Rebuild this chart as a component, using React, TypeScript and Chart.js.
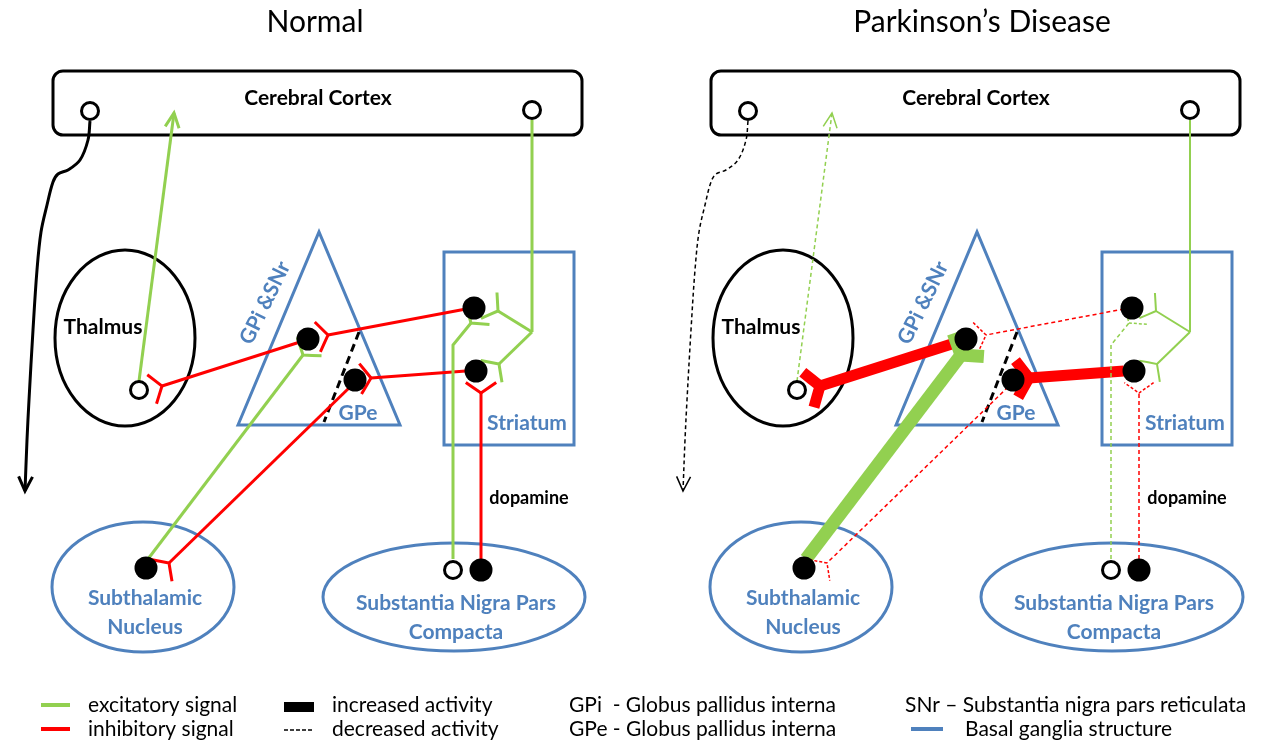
import React, { useEffect, useRef } from "react";
import { Chart, registerables } from "chart.js";

Chart.register(...registerables);

// ---------------- data ----------------
const W = 1262;
const H = 746;

const panelTitles = ["Normal", "Parkinson’s Disease"];
const panelTitleX = [315, 982];
const panelShift = [0, 658];

// neurons (left-panel coordinates, right panel is the same layout shifted)
const filledNeurons = [
  { x: 308, y: 339 }, // GPi
  { x: 355, y: 380 }, // GPe
  { x: 474, y: 308 }, // striatum upper
  { x: 476, y: 371 }, // striatum lower
  { x: 146, y: 568 }, // STN
  { x: 481, y: 570 }, // SNc dopaminergic
];
const openNeurons = [
  { x: 90, y: 111 }, // cortex left
  { x: 532, y: 110 }, // cortex right
  { x: 139, y: 390 }, // thalamus
  { x: 453, y: 570 }, // SNc
];

const connNames = [
  "cortexOut", "thalToCortex", "cortexToStr", "strBranchUp", "strBranchDown", "sncToStr",
  "dopamine", "strToGPi", "strToGPe", "gpiToThal", "stnToGPi", "gpeToStn",
];
const connColors = ["black", "green", "green", "green", "green", "green", "red", "red", "red", "red", "green", "red"];
const connEnds = ["arrow", "arrow", "none", "syn", "syn", "syn", "syn", "syn", "syn", "syn", "syn", "syn"];
const connPaths = [
  [[90, 121], [88, 140], [80, 160], [68, 170], [58, 174], [53, 182], [47, 205], [41, 232], [37, 270], [33, 330], [29, 400], [27, 440], [25, 491]],
  [[139, 381], [174, 113]],
  [[532, 120], [532, 332]],
  [[532, 332], [498, 311]],
  [[532, 332], [499, 364]],
  [[453, 559], [453, 345], [471, 323]],
  [[481, 559], [481, 393]],
  [[466, 309], [328, 335]],
  [[466, 371], [371, 378]],
  [[300, 342], [162, 386]],
  [[148, 559], [303, 355]],
  [[350, 387], [169, 563]],
];
const normalWidths = [3, 3, 3, 3, 3, 3, 3, 3, 3, 3, 3, 3];
const normalDashed = [false, false, false, false, false, false, false, false, false, false, false, false];
const pdWidths = [1.5, 1.5, 2, 2, 2, 1.5, 1.5, 1.5, 11, 11, 13, 1.5];
const pdDashed = [true, true, false, false, false, true, true, true, false, false, false, true];

const boundaryLine = [[359, 332], [324, 422]];

const structureLabels = [
  "Cerebral Cortex", "Thalmus", "GPi &SNr", "GPe", "Striatum", "dopamine",
  "Subthalamic", "Nucleus", "Substantia Nigra Pars", "Compacta",
];

const legendLeft = ["excitatory signal", "inhibitory signal"];
const legendMid = ["increased activity", "decreased activity"];
const legendAbbr = ["GPi  - Globus pallidus interna", "GPe - Globus pallidus interna"];
const legendRight = ["SNr – Substantia nigra pars reticulata", "Basal ganglia structure"];

// ---------------- styles ----------------
const COLORS: Record<string, string> = {
  green: "#92D050",
  red: "#FF0000",
  black: "#000000",
  blue: "#4F81BD",
};
const FONT = "Lato, 'Open Sans', sans-serif";

// label layout: [x, y, size, color, rotation]
const labelLayout: [number, number, number, string, number][] = [
  [318, 98, 21, "black", 0],
  [103, 327, 21, "black", 0],
  [265, 303, 21, "blue", -64],
  [358, 413, 21, "blue", 0],
  [527, 423, 21, "blue", 0],
  [529, 498, 18, "black", 0],
  [145, 598, 21, "blue", 0],
  [145, 627, 21, "blue", 0],
  [456, 603, 21, "blue", 0],
  [456, 632, 21, "blue", 0],
];

function buildDatasets() {
  const ds: any[] = [];
  panelShift.forEach((sx, p) => {
    const widths = p === 0 ? normalWidths : pdWidths;
    const dashed = p === 0 ? normalDashed : pdDashed;
    connPaths.forEach((path, i) => {
      ds.push({
        label: connNames[i] + p,
        data: path.map(([x, y]) => ({ x: x + sx, y })),
        showLine: true,
        borderColor: COLORS[connColors[i]],
        borderWidth: widths[i],
        borderDash: dashed[i] ? [4, 3] : [],
        borderCapStyle: "butt",
        pointRadius: 0,
        tension: i === 0 ? 0.35 : 0,
        fill: false,
        clip: false,
        order: 2,
      });
    });
    ds.push({
      label: "boundary" + p,
      data: boundaryLine.map(([x, y]) => ({ x: x + sx, y })),
      showLine: true,
      borderColor: "#000",
      borderWidth: 3,
      borderDash: [8, 5],
      pointRadius: 0,
      clip: false,
      order: 2,
    });
  });
  ds.push({
    label: "filled",
    data: panelShift.flatMap((sx) => filledNeurons.map((n) => ({ x: n.x + sx, y: n.y }))),
    pointRadius: 11.5,
    pointBackgroundColor: "#000",
    pointBorderWidth: 0,
    showLine: false,
    clip: false,
    order: 1,
  });
  ds.push({
    label: "open",
    data: panelShift.flatMap((sx) => openNeurons.map((n) => ({ x: n.x + sx, y: n.y }))),
    pointRadius: 8.5,
    pointBackgroundColor: "#fff",
    pointBorderColor: "#000",
    pointBorderWidth: 3,
    showLine: false,
    clip: false,
    order: 0,
  });
  return ds;
}

// "Y"-shaped synaptic ending: the stem forks into two arms that open toward the target
function drawSynapse(ctx: CanvasRenderingContext2D, ex: number, ey: number, dx: number, dy: number, lw: number, dashed: boolean) {
  const len = Math.hypot(dx, dy) || 1;
  const ux = dx / len, uy = dy / len;
  const nx = -uy, ny = ux;
  const spread = 14 + lw * 0.4;
  const fwd = 10 + lw * 0.2;
  ctx.save();
  ctx.lineWidth = lw;
  ctx.setLineDash(dashed ? [3, 2] : []);
  ctx.lineJoin = "miter";
  ctx.lineCap = "butt";
  ctx.beginPath();
  ctx.moveTo(ex + ux * fwd + nx * spread, ey + uy * fwd + ny * spread);
  ctx.lineTo(ex + ux * fwd * 0.5 + nx * spread * 0.5, ey + uy * fwd * 0.5 + ny * spread * 0.5);
  ctx.lineTo(ex, ey);
  ctx.lineTo(ex + ux * fwd * 0.5 - nx * spread * 0.5, ey + uy * fwd * 0.5 - ny * spread * 0.5);
  ctx.lineTo(ex + ux * fwd - nx * spread, ey + uy * fwd - ny * spread);
  ctx.stroke();
  ctx.restore();
}

function drawArrow(ctx: CanvasRenderingContext2D, tx: number, ty: number, dx: number, dy: number, lw: number) {
  const len = Math.hypot(dx, dy) || 1;
  const ux = dx / len, uy = dy / len;
  const arm = 16, a = 0.45;
  const c = Math.cos(a), s = Math.sin(a);
  const r1x = -(ux * c - uy * s), r1y = -(uy * c + ux * s);
  const r2x = -(ux * c + uy * s), r2y = -(uy * c - ux * s);
  ctx.save();
  ctx.lineWidth = lw;
  ctx.setLineDash([]);
  ctx.lineJoin = "miter";
  ctx.beginPath();
  ctx.moveTo(tx + r1x * arm, ty + r1y * arm);
  ctx.lineTo(tx, ty);
  ctx.lineTo(tx + r2x * arm, ty + r2y * arm);
  ctx.stroke();
  ctx.restore();
}

const diagramPlugin = {
  id: "diagram",
  beforeDatasetsDraw(chart: any) {
    const ctx: CanvasRenderingContext2D = chart.ctx;
    const X = (v: number) => chart.scales.x.getPixelForValue(v);
    const Y = (v: number) => chart.scales.y.getPixelForValue(v);
    ctx.save();
    ctx.fillStyle = "#fff";
    ctx.fillRect(0, 0, chart.width, chart.height);
    panelShift.forEach((sx) => {
      // cerebral cortex
      ctx.lineWidth = 3;
      ctx.strokeStyle = "#000";
      ctx.beginPath();
      (ctx as any).roundRect(X(53 + sx), Y(71), X(582 + sx) - X(53 + sx), Y(135) - Y(71), 10);
      ctx.stroke();
      // thalamus
      ctx.beginPath();
      ctx.ellipse(X(125 + sx), Y(338), 70, 88, 0, 0, Math.PI * 2);
      ctx.stroke();
      // basal ganglia
      ctx.strokeStyle = COLORS.blue;
      ctx.beginPath();
      ctx.moveTo(X(238 + sx), Y(425));
      ctx.lineTo(X(319 + sx), Y(232));
      ctx.lineTo(X(400 + sx), Y(425));
      ctx.closePath();
      ctx.stroke();
      ctx.strokeRect(X(444 + sx), Y(252), X(574 + sx) - X(444 + sx), Y(445) - Y(252));
      ctx.beginPath();
      ctx.ellipse(X(143 + sx), Y(587), 91, 65, 0, 0, Math.PI * 2);
      ctx.stroke();
      ctx.beginPath();
      ctx.ellipse(X(454 + sx), Y(597), 131, 54, 0, 0, Math.PI * 2);
      ctx.stroke();
    });
    ctx.restore();
  },
  beforeDatasetDraw(chart: any, args: any) {
    if (chart.data.datasets[args.index].label !== "filled") return;
    const ctx: CanvasRenderingContext2D = chart.ctx;
    const X = (v: number) => chart.scales.x.getPixelForValue(v);
    const Y = (v: number) => chart.scales.y.getPixelForValue(v);
    panelShift.forEach((sx, p) => {
      const widths = p === 0 ? normalWidths : pdWidths;
      const dashed = p === 0 ? normalDashed : pdDashed;
      connPaths.forEach((path, i) => {
        if (connEnds[i] === "none") return;
        const [x1, y1] = path[path.length - 2];
        const [x2, y2] = path[path.length - 1];
        const ex = X(x2 + sx), ey = Y(y2);
        const dx = ex - X(x1 + sx), dy = ey - Y(y1);
        ctx.strokeStyle = COLORS[connColors[i]];
        if (connEnds[i] === "arrow") {
          drawArrow(ctx, ex, ey, dx, dy, p === 0 ? 3 : 1.5);
        } else {
          drawSynapse(ctx, ex, ey, dx, dy, widths[i], dashed[i]);
        }
      });
    });
  },
  afterDraw(chart: any) {
    const ctx: CanvasRenderingContext2D = chart.ctx;
    const X = (v: number) => chart.scales.x.getPixelForValue(v);
    const Y = (v: number) => chart.scales.y.getPixelForValue(v);
    ctx.save();
    ctx.textBaseline = "middle";
    ctx.textAlign = "center";
    panelTitles.forEach((t, p) => {
      ctx.font = `30px ${FONT}`;
      ctx.fillStyle = "#000";
      ctx.fillText(t, X(panelTitleX[p]), Y(22));
    });
    panelShift.forEach((sx) => {
      structureLabels.forEach((t, i) => {
        const [x, y, size, color, rot] = labelLayout[i];
        ctx.save();
        ctx.translate(X(x + sx), Y(y));
        ctx.rotate((rot * Math.PI) / 180);
        ctx.font = `bold ${size}px ${FONT}`;
        ctx.fillStyle = COLORS[color];
        ctx.fillText(t, 0, 0);
        ctx.restore();
      });
    });
    // legend
    ctx.textAlign = "left";
    ctx.font = `21px ${FONT}`;
    ctx.fillStyle = "#000";
    const rows = [705, 729];
    ctx.lineWidth = 4;
    ctx.strokeStyle = COLORS.green;
    ctx.beginPath(); ctx.moveTo(X(41), Y(rows[0])); ctx.lineTo(X(70), Y(rows[0])); ctx.stroke();
    ctx.strokeStyle = COLORS.red;
    ctx.beginPath(); ctx.moveTo(X(41), Y(rows[1])); ctx.lineTo(X(70), Y(rows[1])); ctx.stroke();
    ctx.fillRect(X(284), Y(702), X(314) - X(284), Y(712) - Y(702));
    ctx.strokeStyle = "#000";
    ctx.lineWidth = 1.5;
    ctx.setLineDash([4, 2]);
    ctx.beginPath(); ctx.moveTo(X(284), Y(rows[1] + 1)); ctx.lineTo(X(314), Y(rows[1] + 1)); ctx.stroke();
    ctx.setLineDash([]);
    ctx.lineWidth = 4;
    ctx.strokeStyle = COLORS.blue;
    ctx.beginPath(); ctx.moveTo(X(911), Y(rows[1])); ctx.lineTo(X(943), Y(rows[1])); ctx.stroke();
    rows.forEach((ry, r) => {
      ctx.fillText(legendLeft[r], X(88), Y(ry));
      ctx.fillText(legendMid[r], X(332), Y(ry));
      ctx.fillText(legendAbbr[r], X(569), Y(ry));
    });
    ctx.fillText(legendRight[0], X(905), Y(rows[0]));
    ctx.fillText(legendRight[1], X(965), Y(rows[1]));
    ctx.restore();
  },
};

export default function App() {
  const ref = useRef<HTMLCanvasElement>(null);
  useEffect(() => {
    document.body.style.margin = "0";
    const chart = new Chart(ref.current as HTMLCanvasElement, {
      type: "scatter",
      data: { datasets: buildDatasets() },
      options: {
        animation: false,
        responsive: false,
        devicePixelRatio: 1,
        layout: { padding: 0, autoPadding: false },
        events: [],
        scales: {
          x: { type: "linear", min: 0, max: W, display: false },
          y: { type: "linear", min: 0, max: H, reverse: true, display: false },
        },
        plugins: { legend: { display: false }, tooltip: { enabled: false } },
      },
      plugins: [diagramPlugin],
    } as any);
    return () => chart.destroy();
  }, []);
  return (
    <div style={{ width: W, height: H }}>
      <canvas ref={ref} width={W} height={H} style={{ display: "block" }} />
    </div>
  );
}
